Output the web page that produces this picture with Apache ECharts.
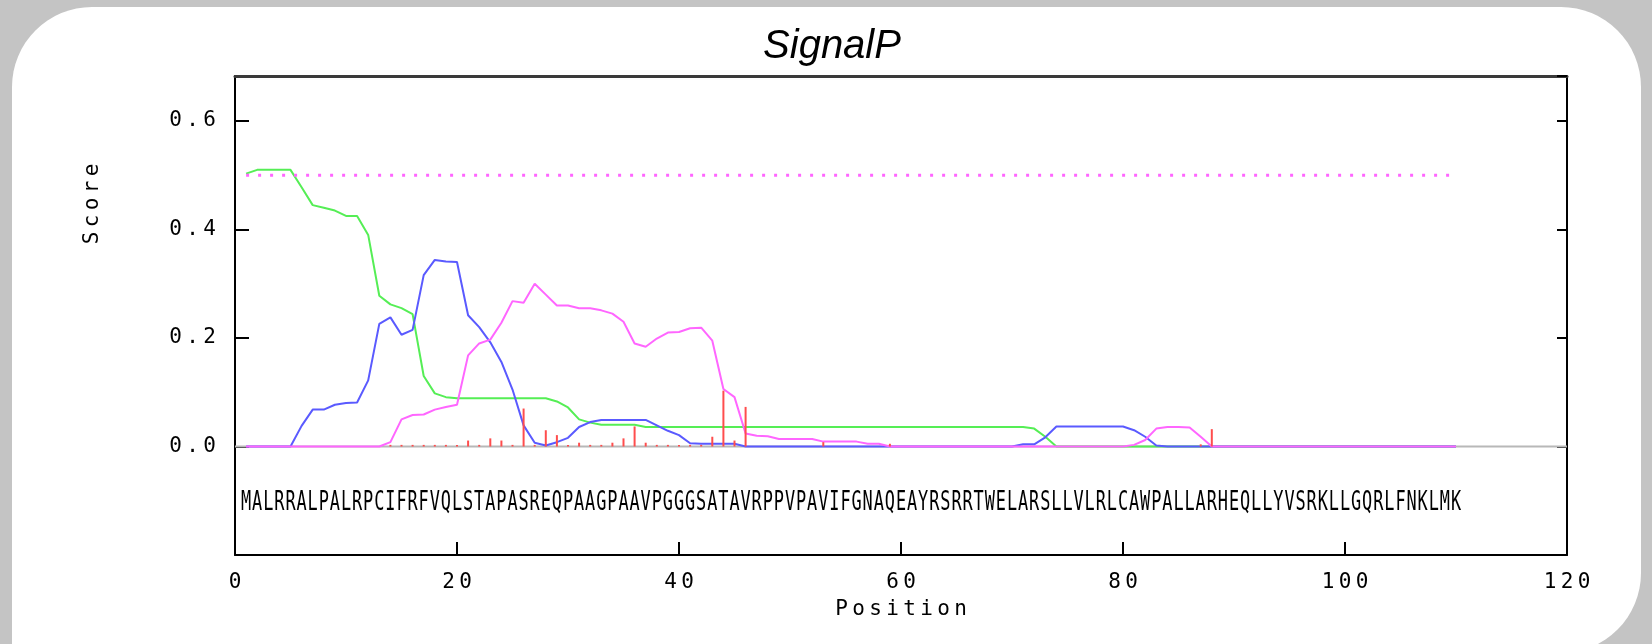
<!DOCTYPE html>
<html><head><meta charset="utf-8">
<script src="https://cdn.jsdelivr.net/npm/echarts@6/dist/echarts.min.js"></script>
<style>
html,body{margin:0;padding:0;background:#c4c4c4;overflow:hidden}
#panel{position:absolute;left:12px;top:7px;width:1629px;height:646px;background:#fff;border-radius:80px 80px 80px 0}
#chart{position:absolute;left:0;top:0;width:1652px;height:644px}
</style></head><body>
<div id="panel"></div><div id="chart"></div>
<script>
// ---- data ----
const sequence = "MALRRALPALRPCIFRFVQLSTAPASREQPAAGPAAVPGGGSATAVRPPVPAVIFGNAQEAYRSRRTWELARSLLVLRLCAWPALLARHEQLLYVSRKLLGQRLFNKLMK";
const xTicks = [0, 20, 40, 60, 80, 100, 120];
const yTicks = [0.0, 0.2, 0.4, 0.6];
const cutoff = 0.5;
const green = [
0.503,0.510,0.510,0.510,0.510,0.478,0.445,0.440,0.435,0.425,
0.425,0.390,0.278,0.262,0.255,0.244,0.130,0.098,0.091,0.089,
0.089,0.089,0.089,0.089,0.089,0.089,0.089,0.089,0.083,0.072,
0.050,0.044,0.040,0.040,0.040,0.040,0.036,0.036,0.036,0.036,
0.036,0.036,0.036,0.036,0.036,0.036,0.036,0.036,0.036,0.036,
0.036,0.036,0.036,0.036,0.036,0.036,0.036,0.036,0.036,0.036,
0.036,0.036,0.036,0.036,0.036,0.036,0.036,0.036,0.036,0.036,
0.036,0.033,0.018,0,0,0,0,0,0,0,
0,0,0,0,0,0,0,0,0,0,
0,0,0,0,0,0,0,0,0,0,
0,0,0,0,0,0,0,0,0,0];
const blue = [
0,0,0,0,0,0.038,0.068,0.068,0.077,0.080,
0.081,0.122,0.226,0.238,0.206,0.215,0.316,0.344,0.341,0.340,
0.242,0.220,0.192,0.156,0.105,0.039,0.007,0.002,0.008,0.016,
0.036,0.045,0.049,0.049,0.049,0.049,0.049,0.039,0.029,0.021,
0.006,0.005,0.005,0.005,0.005,0,0,0,0,0,
0,0,0,0,0,0,0,0,0,0,
0,0,0,0,0,0,0,0,0,0,
0.004,0.004,0.017,0.037,0.037,0.037,0.037,0.037,0.037,0.037,
0.030,0.018,0.002,0,0,0,0,0,0,0,
0,0,0,0,0,0,0,0,0,0,
0,0,0,0,0,0,0,0,0,0];
const magenta = [
0,0,0,0,0,0,0,0,0,0,
0,0,0,0.008,0.050,0.058,0.059,0.068,0.073,0.077,
0.168,0.190,0.197,0.228,0.268,0.265,0.300,0.280,0.260,0.260,
0.255,0.255,0.251,0.245,0.230,0.190,0.184,0.199,0.210,0.211,
0.218,0.219,0.195,0.106,0.091,0.024,0.020,0.019,0.014,0.014,
0.014,0.014,0.009,0.009,0.009,0.009,0.005,0.005,0,0,
0,0,0,0,0,0,0,0,0,0,
0,0,0,0,0,0,0,0,0,0,
0.003,0.012,0.033,0.036,0.036,0.035,0.018,0,0,0,
0,0,0,0,0,0,0,0,0,0,
0,0,0,0,0,0,0,0,0,0];
const red = [
0,0,0,0,0,0,0,0,0,0,
0,0,0,0.003,0.003,0.003,0.003,0.003,0.003,0.003,
0.011,0.003,0.015,0.011,0.003,0.070,0.003,0.030,0.021,0.003,
0.007,0.003,0.003,0.007,0.015,0.037,0.007,0.003,0.003,0.003,
0.003,0.003,0.018,0.103,0.011,0.073,0,0,0,0,
0,0,0.008,0,0,0,0,0,0.005,0,
0,0,0,0,0,0,0,0,0,0,
0,0,0,0,0,0,0,0,0,0,
0,0,0,0,0,0,0.004,0.032,0,0,
0,0,0,0,0,0,0,0,0,0,
0,0,0,0,0,0,0,0,0,0];

// ---- helpers ----
const MONO = '"DejaVu Sans Mono", monospace';
function spaced(s){ return s.split('').map(c => '{c|' + c + '}').join(''); }
const richC = { c: { width: 17, align: 'center', fontFamily: MONO, fontSize: 21, lineHeight: 21, color: '#000' } };
const pts = arr => arr.map((v, i) => [i + 1, v]);
const letters = sequence.split('');
const seqData = letters.map((c, i) => [i + 1, -0.105]);
const isTick = v => yTicks.some(t => Math.abs(t - v) < 1e-6);

const chart = echarts.init(document.getElementById('chart'), null, { renderer: 'canvas' });
chart.setOption({
  backgroundColor: 'transparent',
  animation: false,
  graphic: [
    { type: 'text', x: 832, y: 47, style: { text: 'SignalP', font: 'italic 40px "Liberation Sans", Arial, sans-serif', fill: '#000', align: 'center', verticalAlign: 'middle' } },
    { type: 'text', x: 93, y: 204, rotation: Math.PI / 2, style: { text: spaced('Score'), rich: richC, align: 'center', verticalAlign: 'middle' } }
  ],
  grid: { left: 235, right: 85, top: 76, bottom: 89, containLabel: false },
  xAxis: [
    { type: 'value', position: 'bottom', min: 0, max: 120, interval: 20,
      axisLine: { show: true, onZero: false, lineStyle: { color: '#000', width: 2 } },
      axisTick: { show: true, inside: true, length: 13, lineStyle: { color: '#000', width: 2 } },
      axisLabel: { margin: 17, formatter: v => xTicks.indexOf(v) >= 0 ? spaced(String(v)) : '', rich: richC },
      splitLine: { show: false },
      name: spaced('Position'), nameLocation: 'middle', nameGap: 44, nameTextStyle: { rich: richC } },
    { type: 'value', position: 'top', min: 0, max: 120, interval: 20,
      axisLine: { show: true, onZero: false, lineStyle: { color: '#3a3a3a', width: 3 } },
      axisTick: { show: false }, axisLabel: { show: false }, splitLine: { show: false } }
  ],
  yAxis: [
    { type: 'value', position: 'left', min: -0.2, max: 0.683, interval: 0.2,
      axisLine: { show: true, onZero: false, lineStyle: { color: '#000', width: 2 } },
      axisTick: { show: true, inside: true, length: 14, lineStyle: { color: '#000', width: 2 } },
      axisLabel: { margin: 17, showMinLabel: false, showMaxLabel: false, formatter: v => isTick(v) ? spaced(v.toFixed(1)) : '', rich: richC },
      splitLine: { show: false } },
    { type: 'value', position: 'right', min: -0.2, max: 0.683, interval: 0.2,
      axisLine: { show: true, onZero: false, lineStyle: { color: '#000', width: 2 } },
      axisTick: { show: true, inside: true, length: 10, lineStyle: { color: '#000', width: 2 } },
      axisLabel: { show: false }, splitLine: { show: false } }
  ],
  series: [
    { name: 'zero', type: 'line', z: 1, data: [[0, 0], [120, 0]], symbol: 'none', silent: true,
      lineStyle: { color: '#b8b8b8', width: 2 } },
    { name: 'green', type: 'line', z: 2, data: pts(green), symbol: 'none',
      lineStyle: { color: '#55ee55', width: 2 } },
    { name: 'blue', type: 'line', z: 3, data: pts(blue), symbol: 'none',
      lineStyle: { color: '#5a5aff', width: 2 } },
    { name: 'magenta', type: 'line', z: 4, data: pts(magenta), symbol: 'none',
      lineStyle: { color: '#ff66ff', width: 2 } },
    { name: 'cutoff', type: 'line', z: 4, data: [[1, cutoff], [110, cutoff]], symbol: 'none',
      lineStyle: { color: '#ff66ff', width: 3, type: [3, 9] } },
    { name: 'red', type: 'bar', z: 5, data: pts(red), barWidth: 2, barGap: '-100%',
      itemStyle: { color: '#ff4d4d' } },
    { name: 'sequence', type: 'custom', z: 6, data: seqData, encode: { x: 0, y: 1 },
      renderItem: (params, api) => {
        const p = api.coord([api.value(0), api.value(1)]);
        return { type: 'text', x: p[0], y: p[1], scaleX: 1.3, scaleY: 2.0,
          style: { text: letters[params.dataIndex], fontFamily: MONO, fontSize: 13, fill: '#000', align: 'center', verticalAlign: 'middle' } };
      } }
  ]
});
</script></body></html>
